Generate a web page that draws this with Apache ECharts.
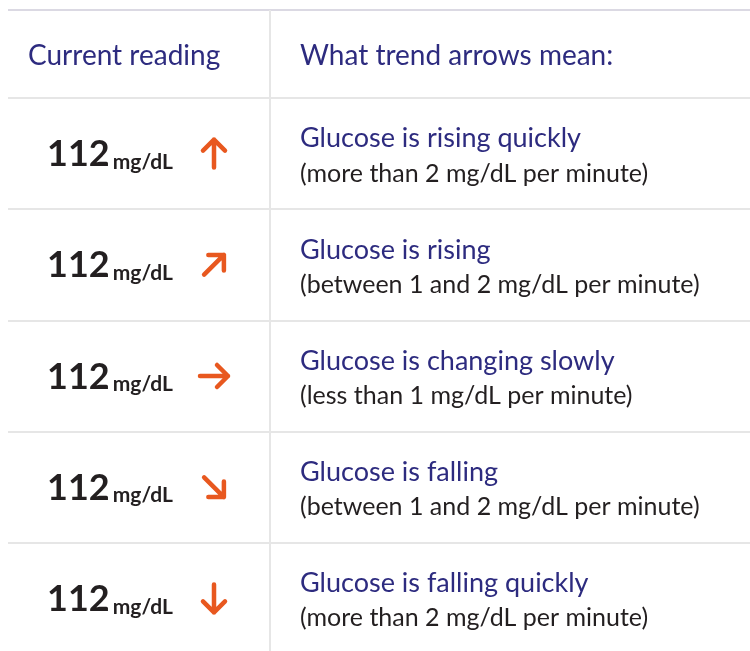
<!DOCTYPE html>
<html>
<head>
<meta charset="utf-8">
<script src="https://cdn.jsdelivr.net/npm/echarts@6/dist/echarts.min.js"></script>
<style>
  html, body { margin: 0; padding: 0; background: #fff; }
  #trend-table { width: 750px; height: 651px; }
</style>
</head>
<body>
<div id="trend-table"></div>
<script>
  // column headers
  const headers = ['Current reading', 'What trend arrows mean:']
  // one entry per row
  const readings = [112, 112, 112, 112, 112]
  const unit = 'mg/dL'
  // direction of the trend arrow, degrees (90 = straight up)
  const arrowAngles = [90, 45, 0, -45, -90]
  const trends = [
    'Glucose is rising quickly',
    'Glucose is rising',
    'Glucose is changing slowly',
    'Glucose is falling',
    'Glucose is falling quickly'
  ]
  const rates = [
    '(more than 2 mg/dL per minute)',
    '(between 1 and 2 mg/dL per minute)',
    '(less than 1 mg/dL per minute)',
    '(between 1 and 2 mg/dL per minute)',
    '(more than 2 mg/dL per minute)'
  ]

  const NAVY = '#2d2b7f'
  const INK = '#231f20'
  const ORANGE = '#e8581f'
  const LINE = '#e6e6e6'
  const FONT = 'Lato, "Noto Sans", sans-serif'

  const chart = echarts.init(document.getElementById('trend-table'))

  function renderRow(params, api) {
    const i = api.value(1)
    const p = api.coord([0, i])
    const left = params.coordSys.x
    const cy = p[1]
    const rot = (arrowAngles[i] - 90) * Math.PI / 180
    return {
      type: 'group',
      children: [
        {
          type: 'text',
          x: left + 39,
          y: cy + 1,
          style: {
            text: '{n|' + readings[i] + '}{s| }{u|' + unit + '}',
            verticalAlign: 'middle',
            rich: {
              n: { fontFamily: FONT, fontWeight: 'bold', fontSize: 36, lineHeight: 36, fill: INK, verticalAlign: 'bottom' },
              s: { fontFamily: FONT, fontSize: 12, lineHeight: 12, verticalAlign: 'bottom' },
              u: { fontFamily: FONT, fontWeight: 'bold', fontSize: 21, lineHeight: 21, fill: INK, verticalAlign: 'bottom' }
            }
          }
        },
        {
          type: 'group',
          x: left + 206,
          y: cy,
          rotation: rot,
          children: [{
            type: 'path',
            shape: { pathData: 'M0,14 L0,-14 M-11,-3 L0,-14 L11,-3' },
            style: { fill: null, stroke: ORANGE, lineWidth: 4.5, lineCap: 'round', lineJoin: 'round' }
          }]
        },
        {
          type: 'text',
          x: left + 292,
          y: cy - 15,
          style: { text: trends[i], fontFamily: FONT, fontSize: 27, fill: NAVY, verticalAlign: 'middle' }
        },
        {
          type: 'text',
          x: left + 292,
          y: cy + 20,
          style: { text: rates[i], fontFamily: FONT, fontSize: 25, fill: INK, verticalAlign: 'middle' }
        }
      ]
    }
  }

  const option = {
    backgroundColor: '#fff',
    animation: false,
    grid: { left: 8, right: 0, top: 98, height: 556, outerBoundsMode: 'none' },
    xAxis: { type: 'value', min: 0, max: 1, show: false },
    yAxis: {
      type: 'category',
      inverse: true,
      data: trends,
      axisLine: { show: false },
      axisTick: { show: false },
      axisLabel: { show: false },
      splitLine: { show: true, lineStyle: { color: LINE, width: 2 } }
    },
    graphic: [
      { type: 'line', shape: { x1: 8, y1: 10, x2: 750, y2: 10 }, style: { stroke: '#cfcdda', lineWidth: 1.5 } },
      { type: 'line', shape: { x1: 270, y1: 10, x2: 270, y2: 651 }, style: { stroke: LINE, lineWidth: 2 } },
      { type: 'text', x: 28, y: 56, style: { text: headers[0], fontFamily: FONT, fontSize: 28, fill: NAVY, verticalAlign: 'middle' } },
      { type: 'text', x: 300, y: 56, style: { text: headers[1], fontFamily: FONT, fontSize: 28, fill: NAVY, verticalAlign: 'middle' } }
    ],
    series: [{
      type: 'custom',
      renderItem: renderRow,
      data: trends.map((t, i) => [0, i])
    }]
  }

  chart.setOption(option)
</script>
</body>
</html>
